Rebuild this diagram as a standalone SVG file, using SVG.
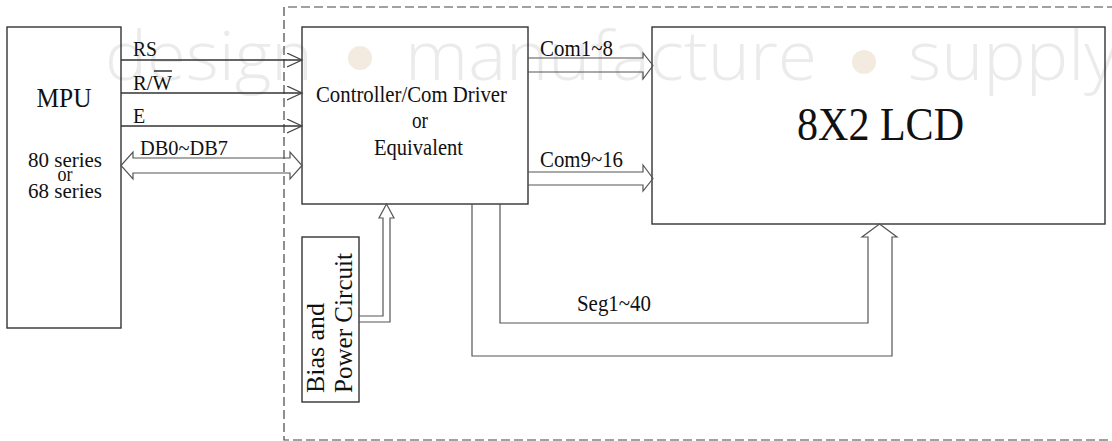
<svg xmlns="http://www.w3.org/2000/svg" width="1112" height="441" viewBox="0 0 1112 441">
<style>
.box{fill:none;stroke:#333;stroke-width:1.4}
.ln{fill:none;stroke:#333;stroke-width:1.3}
.bus{fill:none;stroke:#555;stroke-width:1.2}
.t{font-family:"Liberation Serif","Times New Roman",serif;fill:#111}
.wm{font-family:"Open Sans","Noto Sans",sans-serif;font-weight:300;fill:#ebebeb;font-size:68px}
</style>
<defs>
<marker id="chev" markerUnits="userSpaceOnUse" markerWidth="18" markerHeight="16" refX="15" refY="7" orient="auto">
<path d="M0,0 L15,7 L0,14" fill="none" stroke="#444" stroke-width="1.2"/>
</marker>
</defs>
<rect width="1112" height="441" fill="#fff"/>
<g id="watermark">
<text class="wm" x="105" y="80" textLength="208" lengthAdjust="spacingAndGlyphs">design</text>
<circle cx="360" cy="58" r="12" fill="#f3ebdf"/>
<text class="wm" x="405" y="80" textLength="412" lengthAdjust="spacingAndGlyphs">manufacture</text>
<circle cx="864" cy="62" r="12" fill="#f3ebdf"/>
<text class="wm" x="908" y="80" textLength="209" lengthAdjust="spacingAndGlyphs">supply</text>
</g>
<g id="module-boundary">
<path d="M1116,7 H284 V440 H1116" fill="none" stroke="#444" stroke-width="1.2" stroke-dasharray="9 4"/>
</g>
<g id="node-mpu">
<rect class="box" x="7" y="27" width="114" height="301"/>
<text class="t" x="64" y="107" font-size="28" text-anchor="middle" textLength="55" lengthAdjust="spacingAndGlyphs">MPU</text>
<text class="t" x="65" y="167" font-size="21" text-anchor="middle" textLength="74" lengthAdjust="spacingAndGlyphs">80 series</text>
<text class="t" x="65" y="181" font-size="21" text-anchor="middle" textLength="15" lengthAdjust="spacingAndGlyphs">or</text>
<text class="t" x="65" y="198" font-size="21" text-anchor="middle" textLength="74" lengthAdjust="spacingAndGlyphs">68 series</text>
</g>
<g id="node-controller">
<rect class="box" x="302" y="27" width="226" height="177"/>
<text class="t" x="411.5" y="102" font-size="23" text-anchor="middle" textLength="191" lengthAdjust="spacingAndGlyphs">Controller/Com Driver</text>
<text class="t" x="420" y="128" font-size="23" text-anchor="middle" textLength="16" lengthAdjust="spacingAndGlyphs">or</text>
<text class="t" x="418.5" y="155" font-size="23" text-anchor="middle" textLength="89" lengthAdjust="spacingAndGlyphs">Equivalent</text>
</g>
<g id="node-lcd">
<rect class="box" x="652" y="27" width="453" height="197"/>
<text class="t" x="880.5" y="140" font-size="46" text-anchor="middle" textLength="167" lengthAdjust="spacingAndGlyphs">8X2 LCD</text>
</g>
<g id="node-bias">
<rect class="box" x="302" y="237" width="57" height="165"/>
<text class="t" font-size="26" transform="translate(324,393) rotate(-90)" textLength="90" lengthAdjust="spacingAndGlyphs">Bias and</text>
<text class="t" font-size="26" transform="translate(352,393) rotate(-90)" textLength="140" lengthAdjust="spacingAndGlyphs">Power Circuit</text>
</g>
<g id="connectors">
<line class="ln" x1="121" y1="60" x2="302" y2="60" marker-end="url(#chev)"/>
<line class="ln" x1="121" y1="93" x2="302" y2="93" marker-end="url(#chev)"/>
<line class="ln" x1="121" y1="126" x2="302" y2="126" marker-end="url(#chev)"/>
<path class="bus" d="M121,165.5 L133,152 V158 H290 V152 L302,165.5 L290,179 V173 H133 V179 Z"/>
<path class="bus" d="M528,58 H643 V53 L653,65.5 L643,79 V72 H528"/>
<path class="bus" d="M528,172 H643 V165 L653,178.5 L643,191 V185 H528"/>
<path class="bus" d="M472,204 V356 H892 V237 H897 L879.5,224 L862,237 H868 V323 H500 V204"/>
<path class="bus" d="M359,322 H390 V218 H394 L386.5,204 L379,218 H383 V316 H359"/>
<text class="t" x="133" y="56" font-size="20" textLength="24" lengthAdjust="spacingAndGlyphs">RS</text>
<text class="t" x="133" y="90" font-size="20" textLength="39" lengthAdjust="spacingAndGlyphs">R/W</text>
<line x1="154" y1="71" x2="172" y2="71" stroke="#111" stroke-width="1.3"/>
<text class="t" x="133" y="123" font-size="20">E</text>
<text class="t" x="140" y="155" font-size="20" textLength="88" lengthAdjust="spacingAndGlyphs">DB0~DB7</text>
<text class="t" x="540" y="56" font-size="23" textLength="73" lengthAdjust="spacingAndGlyphs">Com1~8</text>
<text class="t" x="540" y="167" font-size="23" textLength="83" lengthAdjust="spacingAndGlyphs">Com9~16</text>
<text class="t" x="577" y="311" font-size="23" textLength="74" lengthAdjust="spacingAndGlyphs">Seg1~40</text>
</g>
</svg>
